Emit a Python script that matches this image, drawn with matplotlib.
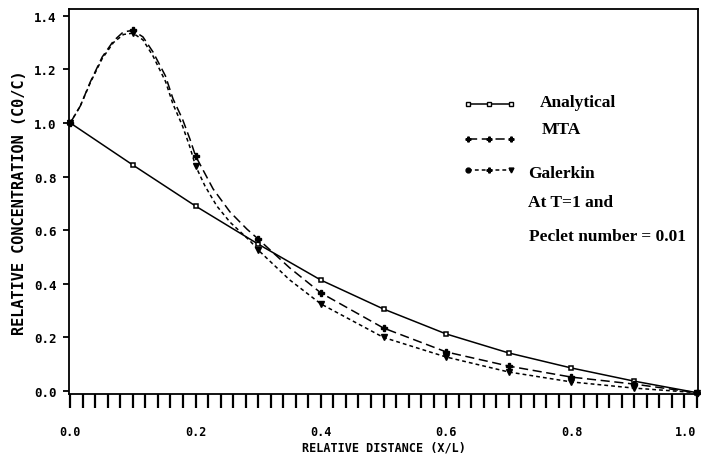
import matplotlib
matplotlib.use("Agg")
import matplotlib.pyplot as plt
from matplotlib.ticker import MultipleLocator

# node values (markers) at x/L = 0, 0.1, ..., 1.0
x_nodes = [0.0, 0.1, 0.2, 0.3, 0.4, 0.5, 0.6, 0.7, 0.8, 0.9, 1.0]
analytical = [1.0, 0.843, 0.69, 0.548, 0.414, 0.306, 0.213, 0.142, 0.086, 0.037, -0.006]
mta = [1.0, 1.345, 0.877, 0.567, 0.366, 0.235, 0.146, 0.093, 0.052, 0.026, -0.006]
galerkin = [1.0, 1.335, 0.84, 0.526, 0.325, 0.20, 0.127, 0.071, 0.034, 0.011, -0.006]

# curve traces (finer near the peak)
mta_cx = [0.0, 0.016, 0.032, 0.051, 0.069, 0.085, 0.1, 0.116, 0.132, 0.152, 0.164, 0.179, 0.191, 0.2,
          0.228, 0.255, 0.282, 0.3, 0.35, 0.4, 0.5, 0.6, 0.7, 0.8, 0.9, 1.0]
mta_cy = [1.0, 1.063, 1.153, 1.246, 1.306, 1.34, 1.345, 1.321, 1.265, 1.175, 1.09, 1.015, 0.94, 0.877,
          0.754, 0.668, 0.604, 0.567, 0.46, 0.366, 0.235, 0.146, 0.093, 0.052, 0.026, -0.006]
gal_cx = [0.0, 0.016, 0.032, 0.051, 0.069, 0.085, 0.1, 0.116, 0.132, 0.152, 0.164, 0.179, 0.191, 0.2,
          0.215, 0.234, 0.255, 0.287, 0.3, 0.35, 0.4, 0.5, 0.6, 0.7, 0.8, 0.9, 1.0]
gal_cy = [1.0, 1.063, 1.15, 1.24, 1.30, 1.33, 1.335, 1.31, 1.25, 1.155, 1.07, 0.99, 0.91, 0.84,
          0.765, 0.69, 0.63, 0.56, 0.526, 0.415, 0.325, 0.20, 0.127, 0.071, 0.034, 0.011, -0.006]

mono = {'family': 'DejaVu Sans Mono', 'weight': 'bold'}
serif = {'family': 'Liberation Serif', 'weight': 'bold', 'size': 12.5}

fig = plt.figure(figsize=(7.01, 4.56), dpi=100)
ax = fig.add_axes([69 / 701, 1 - 395 / 456, 629 / 701, 385 / 456])

mta_style = dict(color='black', linestyle=(0, (6, 3)), linewidth=1.1)
gal_style = dict(color='black', linestyle=(0, (2.5, 2)), linewidth=1.1)
ana_style = dict(color='black', linestyle='-', linewidth=1.1)

ax.plot(x_nodes, analytical, **ana_style, marker='s', markersize=3.5, markerfacecolor='white',
        markeredgewidth=1.1, clip_on=False)
ax.plot(mta_cx, mta_cy, **mta_style, clip_on=False)
ax.plot(x_nodes, mta, linestyle='none', marker='P', markersize=4.5, color='black', clip_on=False)
ax.plot(gal_cx, gal_cy, **gal_style, clip_on=False)
ax.plot(x_nodes, galerkin, linestyle='none', marker='v', markersize=4, color='black', clip_on=False)

ax.set_xlim(-0.002, 1.002)
ax.set_ylim(-0.011, 1.425)
ax.xaxis.set_minor_locator(MultipleLocator(0.02))
ax.tick_params(axis='x', which='both', direction='out', length=10, width=1.6, pad=12)
ax.tick_params(axis='y', which='major', direction='out', length=4, width=1.3, pad=5)
ax.set_xticks([0.0, 0.2, 0.4, 0.6, 0.8, 1.0])
ax.set_xticklabels(['0.0', '0.2', '0.4', '0.6', '0.8', '1.0'], fontdict=dict(mono, size=8.5))
ax.get_xticklabels()[-1].set_horizontalalignment('right')  # keep "1.0" inside the image
ax.set_yticks([0.0, 0.2, 0.4, 0.6, 0.8, 1.0, 1.2, 1.4])
ax.set_yticklabels(['0.0', '0.2', '0.4', '0.6', '0.8', '1.0', '1.2', '1.4'], fontdict=dict(mono, size=9))
for s in ax.spines.values():
    s.set_linewidth(1.3)

ax.set_xlabel('RELATIVE DISTANCE (X/L)', fontdict=dict(mono, size=8.5), labelpad=2)
ax.set_ylabel('RELATIVE CONCENTRATION (C0/C)', fontdict=dict(mono, size=11), labelpad=5)

# hand-drawn key, as in the original
def key(y, style, markers, face):
    xs = [0.635, 0.668, 0.703]
    ax.plot(xs, [y] * 3, transform=ax.transAxes, **style, clip_on=False)
    for xk, m in zip(xs, markers):
        ax.plot([xk], [y], transform=ax.transAxes, marker=m, markersize=3.5, color='black',
                markerfacecolor=face, linestyle='none', clip_on=False)

key(0.753, ana_style, ['s', 's', 's'], 'white')
key(0.662, mta_style, ['P', 'P', 'P'], 'black')
key(0.582, gal_style, ['o', 'P', 'v'], 'black')
ax.text(0.749, 0.758, 'Analytical', transform=ax.transAxes, va='center', fontdict=serif)
ax.text(0.752, 0.688, 'MTA', transform=ax.transAxes, va='center', fontdict=serif)
ax.text(0.730, 0.574, 'Galerkin', transform=ax.transAxes, va='center', fontdict=serif)
ax.text(0.730, 0.499, 'At T=1 and', transform=ax.transAxes, va='center', fontdict=serif)
ax.text(0.732, 0.410, 'Peclet number = 0.01', transform=ax.transAxes, va='center', fontdict=serif)

fig.savefig('out.png', dpi=100)
